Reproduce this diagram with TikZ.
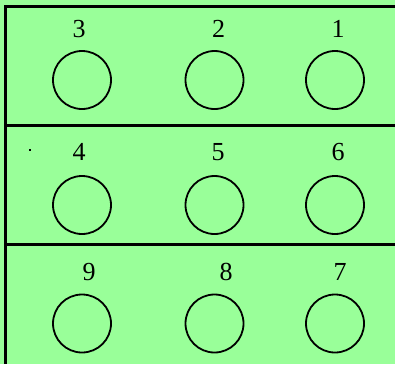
\documentclass[tikz,border=0pt]{standalone}
\usepackage{fontspec}
\setmainfont{Liberation Serif}
\definecolor{bg}{HTML}{99FF99}
\begin{document}
\begin{tikzpicture}[x=1pt,y=-1pt,
  hole/.style={circle,draw=black,line width=1.8pt,minimum size=58pt,inner sep=0pt},
  num/.style={font=\fontsize{26}{26}\selectfont,inner sep=0pt},
  frame/.style={line width=3pt,draw=black}]
\fill[bg] (0,0) rectangle (395,364);
\useasboundingbox (0,0) rectangle (395,364);
\coordinate (tl) at (5,6);
\coordinate (tr) at (395,6);
\coordinate (bl) at (5,364);
\coordinate (m1l) at (5,125);
\coordinate (m1r) at (395,125);
\coordinate (m2l) at (5,244.5);
\coordinate (m2r) at (395,244.5);
\draw[frame] (tr) -- (tl) -- (bl);
\draw[frame] (m1l) -- (m1r);
\draw[frame] (m2l) -- (m2r);
% row 1
\node[hole] (c3) at (82,80) {};
\node[hole] (c2) at (214.5,80) {};
\node[hole] (c1) at (335,80) {};
\node[num] (n3) at (79,29) {3};
\node[num] (n2) at (218.5,29) {2};
\node[num] (n1) at (338,29) {1};
% row 2
\node[hole] (c4) at (82,205) {};
\node[hole] (c5) at (214.5,205) {};
\node[hole] (c6) at (335,205) {};
\node[num] (n4) at (79,152) {4};
\node[num] (n5) at (218,152) {5};
\node[num] (n6) at (338,152) {6};
\fill[black] (29.2,149.3) rectangle (30.8,150.9);
% row 3
\node[hole] (c9) at (82,323.5) {};
\node[hole] (c8) at (214.5,323.5) {};
\node[hole] (c7) at (335,323.5) {};
\node[num] (n9) at (89,272) {9};
\node[num] (n8) at (226,272) {8};
\node[num] (n7) at (340,272) {7};
\end{tikzpicture}
\end{document}
